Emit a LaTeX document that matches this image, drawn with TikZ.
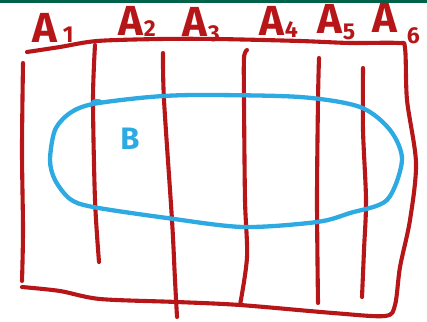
\documentclass[tikz,border=0pt]{standalone}
\usepackage{fontspec}
\setmainfont{Fira Sans}
\usetikzlibrary{positioning}

\definecolor{penred}{RGB}{183,22,24}
\definecolor{penblue}{RGB}{44,170,225}
\definecolor{bargreen}{RGB}{0,98,72}

\tikzset{
  redline/.style={penred, line width=4.1pt, line cap=round, line join=round},
  blueline/.style={penblue, line width=4.3pt, line cap=round, line join=round},
  albl/.style={penred, font=\fontsize{42}{42}\selectfont\bfseries, inner sep=0pt, anchor=base west},
  blbl/.style={penblue, font=\fontsize{31}{31}\selectfont\bfseries, inner sep=0pt},
}
\newcommand{\subdigit}[2]{\raisebox{-#2pt}{\fontsize{23}{23}\selectfont #1}}

\begin{document}
\begin{tikzpicture}[x=1pt, y=-1pt]
        \useasboundingbox (0,0) rectangle (427,321);
        % bar at the top
        \fill[bargreen] (0,0) rectangle (427,3);

        % frame: top, right side, bottom
        \draw[redline] plot[smooth, tension=0.5] coordinates {
            (27,52) (60,47) (97,41) (160,39) (217,39) (300,41) (350,43) (398,43)
            (405,48) (407,100) (416,163) (410,220) (400,267) (395,305) (385,316)
            (333,313) (240,305) (177,302) (100,299) (60,291) (22,287)};
        % left side
        \draw[redline] plot[smooth] coordinates {(23,63) (22,150) (23,230) (22,281)};

        % dividing lines
        \draw[redline] plot[smooth] coordinates {(95,45) (93,100) (95,200) (99,262)};
        \draw[redline] plot[smooth] coordinates {(163,53) (164,100) (172,220) (175,280) (177,317)};
        \draw[redline] plot[smooth] coordinates {(247,50) (244,58) (244,100) (245,200) (247,257) (240,305)};
        \draw[redline] plot[smooth] coordinates {(319,58) (318,100) (317,200) (318,303)};
        \draw[redline] plot[smooth] coordinates {(363,68) (363,130) (366,200) (364,250) (362,297)};

        % set B
        \draw[blueline] plot[smooth cycle] coordinates {
            (93,104) (150,97) (200,95) (300,97) (360,107) (390,130) (402,160)
            (387,200) (350,213) (317,222) (243,227) (167,218) (93,207) (70,199)
            (55,180) (50,160) (55,130) (70,113)};
        \fill[penblue] (97,102) ellipse (6 and 3);
        \node[blbl] (b) at (130,139) {B};

        % labels A_1 ... A_6
        \foreach \x/\y/\k/\d/\n in {32/42/6/0/1, 118/36/1/1/2, 182/37/1/5/3,
                                   259/35/1/2/4, 317/34/1/6/5, 372/33/10/10/6}
            \node[albl] (a\n) at (\x,\y) {A\kern\k pt\subdigit{\n}{\d}};

    \end{tikzpicture}
\end{document}
